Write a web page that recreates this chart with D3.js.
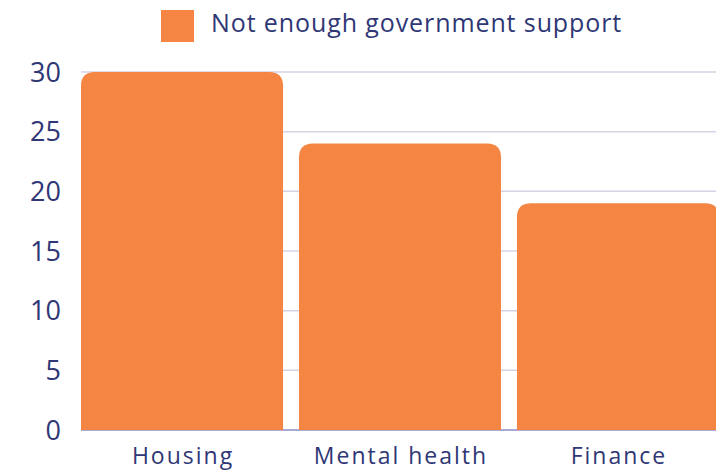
<!DOCTYPE html>
<html>
<head>
<meta charset="utf-8">
<script src="https://cdn.jsdelivr.net/npm/d3@7"></script>
<style>
  body { margin: 0; background: #fff; }
  svg { display: block; font-family: 'Open Sans', sans-serif; }
</style>
</head>
<body>
<div id="chart"></div>
<script>
const categories = ["Housing", "Mental health", "Finance"];
const values = [30, 24, 19];
const yTicks = [0, 5, 10, 15, 20, 25, 30];
const seriesName = "Not enough government support";

const W = 716, H = 473;
const margin = { top: 72, right: -3, bottom: 43, left: 81 };
const textColor = "#2f3775";
const barColor = "#f58543";

const svg = d3.select("#chart").append("svg")
  .attr("width", W).attr("height", H);

const x = d3.scaleBand()
  .domain(categories)
  .range([margin.left, W - margin.right])
  .paddingInner(0.073)
  .paddingOuter(0);

const y = d3.scaleLinear()
  .domain([0, 30])
  .range([H - margin.bottom, margin.top]);

// gridlines
svg.append("g")
  .selectAll("line")
  .data(yTicks.filter(d => d > 0))
  .enter().append("line")
  .attr("x1", margin.left).attr("x2", W)
  .attr("y1", d => y(d)).attr("y2", d => y(d))
  .attr("stroke", "#d3d3e6").attr("stroke-width", 1.5);

svg.append("line")
  .attr("x1", margin.left).attr("x2", W)
  .attr("y1", y(0)).attr("y2", y(0))
  .attr("stroke", "#8c8cc4").attr("stroke-width", 1.5);

// y tick labels
svg.append("g")
  .selectAll("text")
  .data(yTicks)
  .enter().append("text")
  .attr("x", 61)
  .attr("y", d => y(d))
  .attr("dy", "0.36em")
  .attr("text-anchor", "end")
  .style("font-size", "27px")
  .style("font-weight", 500)
  .style("fill", textColor)
  .text(d => d);

// bars with rounded top corners
const r = 14;
function barPath(x0, y0, w, y1) {
  return "M" + x0 + "," + y1 +
    "V" + (y0 + r) +
    "Q" + x0 + "," + y0 + " " + (x0 + r) + "," + y0 +
    "H" + (x0 + w - r) +
    "Q" + (x0 + w) + "," + y0 + " " + (x0 + w) + "," + (y0 + r) +
    "V" + y1 + "Z";
}

svg.append("g")
  .selectAll("path")
  .data(categories)
  .enter().append("path")
  .attr("d", (d, i) => barPath(x(d), y(values[i]), x.bandwidth(), y(0)))
  .attr("fill", barColor);

// x labels
svg.append("g")
  .selectAll("text")
  .data(categories)
  .enter().append("text")
  .attr("x", d => x(d) + x.bandwidth() / 2 + 1)
  .attr("y", 464)
  .attr("text-anchor", "middle")
  .style("font-size", "23px")
  .style("font-weight", 500)
  .style("letter-spacing", "2px")
  .style("fill", textColor)
  .text(d => d);

// legend
const legend = svg.append("g");
legend.append("rect")
  .attr("x", 161).attr("y", 10)
  .attr("width", 33).attr("height", 32)
  .attr("fill", barColor);
legend.append("text")
  .attr("x", 211).attr("y", 32)
  .style("font-size", "25px")
  .style("font-weight", 500)
  .style("letter-spacing", "0.9px")
  .style("fill", textColor)
  .text(seriesName);
</script>
</body>
</html>
